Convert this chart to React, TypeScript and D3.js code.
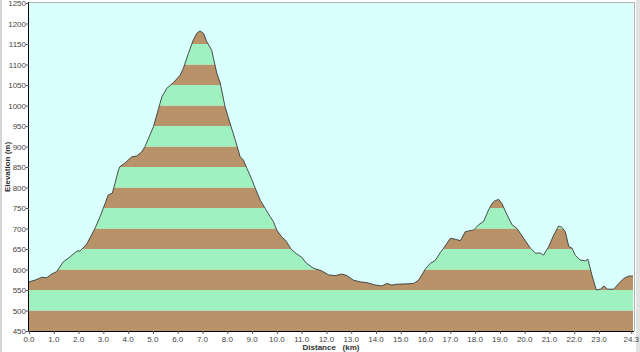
import React from 'react';
import * as d3 from 'd3';

// distance along the route (km) and elevation (m)
const distances = [
  0, 0.24, 0.51, 0.71, 0.92, 1.12, 1.39, 1.66, 1.93, 2.06, 2.33, 2.66, 2.87, 3.07, 3.2, 3.36, 3.47, 3.61,
  3.67, 3.88, 4.15, 4.35, 4.55, 4.68, 5.02, 5.36, 5.56, 5.83, 6.1, 6.23, 6.43, 6.63, 6.77, 6.9,
  7.04, 7.17, 7.37, 7.58, 7.71, 7.91, 8.11, 8.32, 8.52, 8.65, 8.79, 9.0, 9.15, 9.33, 9.53, 9.73, 9.86,
  10.0, 10.2, 10.34, 10.6, 10.8, 11.0, 11.2, 11.48, 11.8, 12.08, 12.35, 12.62, 12.83, 13.09, 13.36,
  13.63, 13.97, 14.24, 14.44, 14.64, 14.84, 15.25, 15.52, 15.72, 15.85, 15.99, 16.19, 16.39, 16.59,
  16.73, 17.0, 17.2, 17.4, 17.6, 17.8, 17.94, 18.14, 18.34, 18.54, 18.68, 18.81, 18.95, 19.08, 19.29,
  19.49, 19.69, 19.96, 20.23, 20.43, 20.63, 20.76, 20.97, 21.17, 21.37, 21.5, 21.64, 21.78, 21.91,
  22.04, 22.24, 22.45, 22.55, 22.71, 22.89, 23.05, 23.21, 23.32, 23.59, 23.8, 24.0, 24.2, 24.37,
];
const elevations = [
  570, 574, 581, 580, 589, 595, 619, 631, 645, 645, 662, 700, 729, 761, 782, 786, 810, 843,
  851, 860, 875, 877, 887, 900, 948, 1021, 1042, 1056, 1074, 1091, 1127, 1160, 1176, 1182,
  1176, 1156, 1135, 1078, 1056, 997, 957, 916, 875, 867, 847, 818, 795, 769, 749, 729, 717,
  696, 679, 672, 648, 638, 630, 615, 603, 597, 587, 585, 589, 585, 574, 570,
  568, 562, 560, 566, 562, 564, 565, 566, 574, 587, 601, 615, 622, 641,
  652, 676, 674, 670, 692, 695, 696, 709, 717, 745, 761, 768, 771, 761, 733,
  709, 700, 676, 652, 640, 640, 635, 656, 684, 706, 703, 692, 656, 652,
  635, 623, 621, 625, 587, 550, 552, 560, 552, 552, 566, 578, 584, 584,
];
const xTicks = [0, 1, 2, 3, 4, 5, 6, 7, 8, 9, 10, 11, 12, 13, 14, 15, 16, 17, 18, 19, 20, 21, 22, 23, 24.3];
const yTicks = [450, 500, 550, 600, 650, 700, 750, 800, 850, 900, 950, 1000, 1050, 1100, 1150, 1200, 1250];

const W = 640;
const H = 352;
const left = 29, right = 633, top = 3, bottom = 331;

const App = () => {
  const x = d3.scaleLinear().domain([0, 24.37]).range([left, right]);
  const y = d3.scaleLinear().domain([450, 1250]).range([bottom, top]);

  const pts = distances.map((d, i) => [d, elevations[i]] as [number, number]);
  const area = d3.area<[number, number]>()
    .x(d => x(d[0]))
    .y0(bottom)
    .y1(d => y(d[1]));
  const line = d3.line<[number, number]>()
    .x(d => x(d[0]))
    .y(d => y(d[1]));

  const bands = yTicks.slice(0, -1);
  const font = 'Arial, "Liberation Sans", sans-serif';

  return (
    <svg width={W} height={H} style={{ position: 'absolute', left: 0, top: 0, background: '#ffffff' }}>
      <defs>
        <clipPath id="terrain">
          <path d={area(pts) || ''} />
        </clipPath>
      </defs>
      {/* window frame */}
      <rect x={0} y={0} width={2} height={H} fill="#d4d4d4" />
      <rect x={636} y={0} width={4} height={H} fill="#e2e2e2" />

      {/* plot background */}
      <rect x={left} y={top} width={right - left} height={bottom - top} fill="#d9ffff" />

      {/* striped terrain */}
      <g clipPath="url(#terrain)">
        {bands.map((b, i) => (
          <rect
            key={b}
            x={left}
            y={y(b + 50)}
            width={right - left}
            height={y(b) - y(b + 50)}
            fill={i % 2 === 0 ? '#b89268' : '#9ff2c0'}
          />
        ))}
      </g>
      <path d={line(pts) || ''} fill="none" stroke="#3a3a3a" strokeWidth={0.9} />

      {/* frame */}
      <line x1={left} x2={right + 1} y1={top - 0.5} y2={top - 0.5} stroke="#a9b4b4" />
      <line x1={right + 1.5} x2={right + 1.5} y1={top - 1} y2={bottom} stroke="#a9b4b4" />
      <line x1={left - 0.5} x2={left - 0.5} y1={top - 1} y2={bottom + 1} stroke="#000" />
      <line x1={left - 1} x2={right + 1} y1={bottom + 0.5} y2={bottom + 0.5} stroke="#000" />

      {/* y axis */}
      {yTicks.map(t => (
        <g key={t}>
          <line x1={left - 3} x2={left} y1={y(t) + 0.5} y2={y(t) + 0.5} stroke="#555" />
          <text x={left - 3} y={y(t) + 3} textAnchor="end" fontSize={8} fontFamily={font} fill="#444">
            {t}
          </text>
        </g>
      ))}
      {/* x axis */}
      {xTicks.map(t => (
        <g key={t}>
          <line x1={x(t) + 0.5} x2={x(t) + 0.5} y1={bottom} y2={bottom + 3} stroke="#555" />
          <text x={x(t)} y={bottom + 11} textAnchor="middle" fontSize={8} fontFamily={font} fill="#444">
            {d3.format('.1f')(t)}
          </text>
        </g>
      ))}

      <text
        transform={`translate(10,${(top + bottom) / 2}) rotate(-90)`}
        textAnchor="middle"
        fontSize={8}
        fontWeight="bold"
        fontFamily={font}
        fill="#333"
      >
        Elevation  (m)
      </text>
      <text x={331} y={350} textAnchor="middle" fontSize={8} fontWeight="bold" fontFamily={font} fill="#333" xmlSpace="preserve">
        Distance   (km)
      </text>
    </svg>
  );
};

export default App;
